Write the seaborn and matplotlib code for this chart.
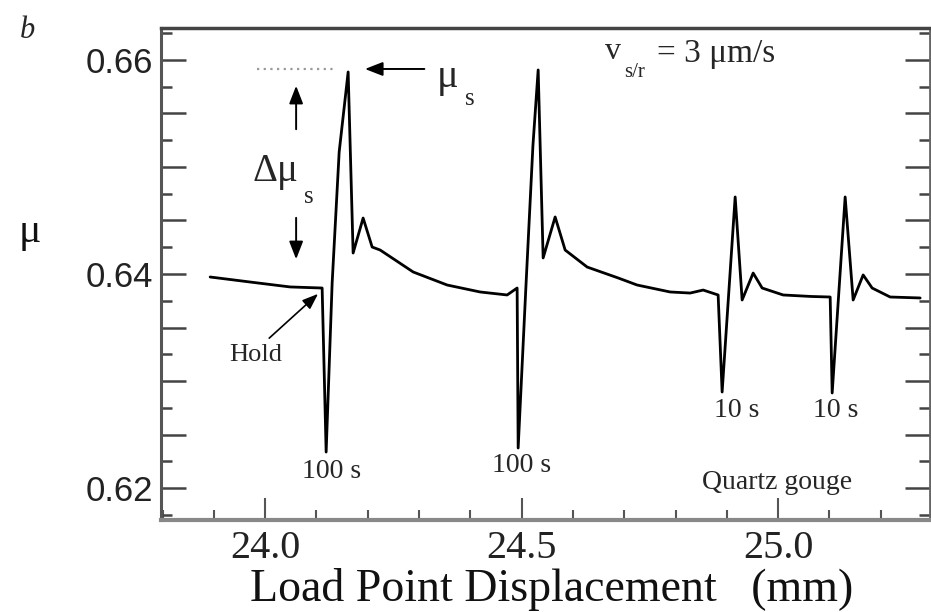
import numpy as np
import pandas as pd
import matplotlib
matplotlib.use("Agg")
import matplotlib.pyplot as plt
import seaborn as sns
from matplotlib.ticker import MultipleLocator, FixedLocator, FuncFormatter

# ---- data ----
disp_mm = [23.8928, 23.9708, 24.0487, 24.1111, 24.1189, 24.1306, 24.1443, 24.1618,
           24.1715, 24.1910, 24.2086, 24.2242, 24.2885, 24.3548, 24.4191, 24.4717,
           24.4912, 24.4932, 24.5080, 24.5220, 24.5322, 24.5419, 24.5653, 24.5848,
           24.6277, 24.6881, 24.7251, 24.7895, 24.8285, 24.8538, 24.8830, 24.8908,
           24.9162, 24.9298, 24.9513, 24.9688, 25.0097, 25.0643, 25.1014, 25.1053,
           25.1306, 25.1462, 25.1657, 25.1832, 25.2183, 25.2768]
friction = [0.63972, 0.63925, 0.63879, 0.63869, 0.62336, 0.63914, 0.65140, 0.65888,
            0.64196, 0.64523, 0.64252, 0.64224, 0.64019, 0.63897, 0.63832, 0.63804,
            0.63869, 0.62374, 0.63850, 0.65200, 0.65907, 0.64150, 0.64533, 0.64224,
            0.64065, 0.63963, 0.63897, 0.63832, 0.63822, 0.63850, 0.63804, 0.62897,
            0.64720, 0.63757, 0.64009, 0.63869, 0.63804, 0.63790, 0.63785, 0.62888,
            0.64720, 0.63757, 0.63991, 0.63869, 0.63785, 0.63776]

y_tick_values = [0.62, 0.64, 0.66]
x_tick_values = [24.0, 24.5, 25.0]
hold_labels = ["100 s", "100 s", "10 s", "10 s"]
hold_label_x = [24.1287, 24.4990, 24.9201, 25.1123]
hold_label_y = [0.62150, 0.62206, 0.62729, 0.62729]
mu_s_level = 0.65916

sns.set_theme(style="ticks")
plt.rcParams["font.family"] = ["Liberation Serif", "DejaVu Serif"]

W, H = 931, 612
fig = plt.figure(figsize=(W / 100, H / 100), dpi=100)
fig.patch.set_facecolor("white")
ax = fig.add_axes([161 / W, 1 - 520 / H, (930 - 161) / W, (520 - 28) / H])
ax.set_facecolor("white")

df = pd.DataFrame({"disp": disp_mm, "mu": friction})
sns.lineplot(data=df, x="disp", y="mu", sort=False, estimator=None,
             color="black", linewidth=2.0, ax=ax)

ax.set_xlim(23.797, 25.296)
ax.set_ylim(0.61701, 0.66299)

# ticks
ax.yaxis.set_major_locator(MultipleLocator(0.005))
ax.yaxis.set_minor_locator(MultipleLocator(0.0025))
ax.yaxis.set_major_formatter(FuncFormatter(
    lambda v, _: f"{v:.2f}" if any(abs(v - t) < 1e-6 for t in y_tick_values) else ""))
ax.xaxis.set_major_locator(FixedLocator(x_tick_values))
ax.xaxis.set_minor_locator(MultipleLocator(0.1))
ax.xaxis.set_major_formatter(FuncFormatter(lambda v, _: f"{v:.1f}"))

ax.tick_params(axis="y", which="both", direction="in", left=True, right=True,
               colors="#444444", pad=6)
ax.tick_params(axis="y", which="major", length=18, width=1.8)
ax.tick_params(axis="y", which="minor", length=8, width=1.8)
ax.tick_params(axis="x", which="both", direction="in", bottom=True, top=False,
               colors="#555555", pad=7)
ax.tick_params(axis="x", which="major", length=16, width=1.5)
ax.tick_params(axis="x", which="minor", length=7, width=1.5)
for lab in ax.get_yticklabels():
    lab.set_fontfamily(["Liberation Sans", "DejaVu Sans"])
    lab.set_fontsize(25)
    lab.set_color("#222222")
for lab in ax.get_xticklabels():
    lab.set_fontsize(29)
    lab.set_color("#222222")

for side, col, lw in [("top", "#444444", 2.5), ("left", "#555555", 2.2),
                      ("bottom", "#888888", 3.0), ("right", "#666666", 2.0)]:
    ax.spines[side].set_color(col)
    ax.spines[side].set_linewidth(lw)
    ax.spines[side].set_visible(True)

ax.set_xlabel("Load Point Displacement   (mm)", fontsize=33, color="#111111")
ax.xaxis.set_label_coords((552 - 161) / 769, (520 - 568) / 492)
ax.set_ylabel("μ", fontsize=30, rotation=0, color="#111111",
              family=["Liberation Serif", "DejaVu Sans"])
ax.yaxis.set_label_coords((30 - 161) / 769, (520 - 232) / 492)
ax.yaxis.label.set_va("center")
ax.yaxis.label.set_ha("center")

fig.text(27 / W, 1 - 31 / H, "b", fontsize=22, style="italic", ha="center", va="center")

# annotations
ax.plot([23.9844, 24.1404], [mu_s_level, mu_s_level], ls=(0, (1, 2)),
        color="#999999", lw=1.6)
ax.annotate("", xy=(24.1891, mu_s_level), xytext=(24.3158, mu_s_level),
            arrowprops=dict(arrowstyle="-|>,head_length=0.9,head_width=0.35",
                            color="black", lw=1.4))
ax.text(24.3548, 0.65832, "μ", fontsize=29, ha="center", va="center")
ax.text(24.3996, 0.65636, "s", fontsize=18, ha="center", va="center")

ax.annotate("", xy=(24.0604, 0.65785), xytext=(24.0604, 0.65327),
            arrowprops=dict(arrowstyle="-|>,head_length=0.9,head_width=0.35",
                            color="black", lw=1.4))
ax.annotate("", xy=(24.0604, 0.64112), xytext=(24.0604, 0.64551),
            arrowprops=dict(arrowstyle="-|>,head_length=0.9,head_width=0.35",
                            color="black", lw=1.4))
ax.text(24.0195, 0.64955, "Δμ", fontsize=28, ha="center", va="center")
ax.text(24.0858, 0.64720, "s", fontsize=18, ha="center", va="center")

ax.annotate("", xy=(24.1072, 0.63832), xytext=(24.0039, 0.63383),
            arrowprops=dict(arrowstyle="-|>,head_length=0.8,head_width=0.3",
                            color="black", lw=1.2))
ax.text(23.9825, 0.63243, "Hold", fontsize=19, ha="center", va="center")

ax.text(24.6784, 0.66080, "v", fontsize=23, ha="center", va="center")
ax.text(24.7193, 0.65880, "s/r", fontsize=15, ha="center", va="center")
ax.text(24.7641, 0.66060, "= 3 μm/s", fontsize=24, ha="left", va="center")

for lab, x, y in zip(hold_labels, hold_label_x, hold_label_y):
    ax.text(x, y, lab, fontsize=20, ha="center", va="center")
ax.text(24.9981, 0.62056, "Quartz gouge", fontsize=20, ha="center", va="center")

fig.savefig("out.png", dpi=100, facecolor="white")
